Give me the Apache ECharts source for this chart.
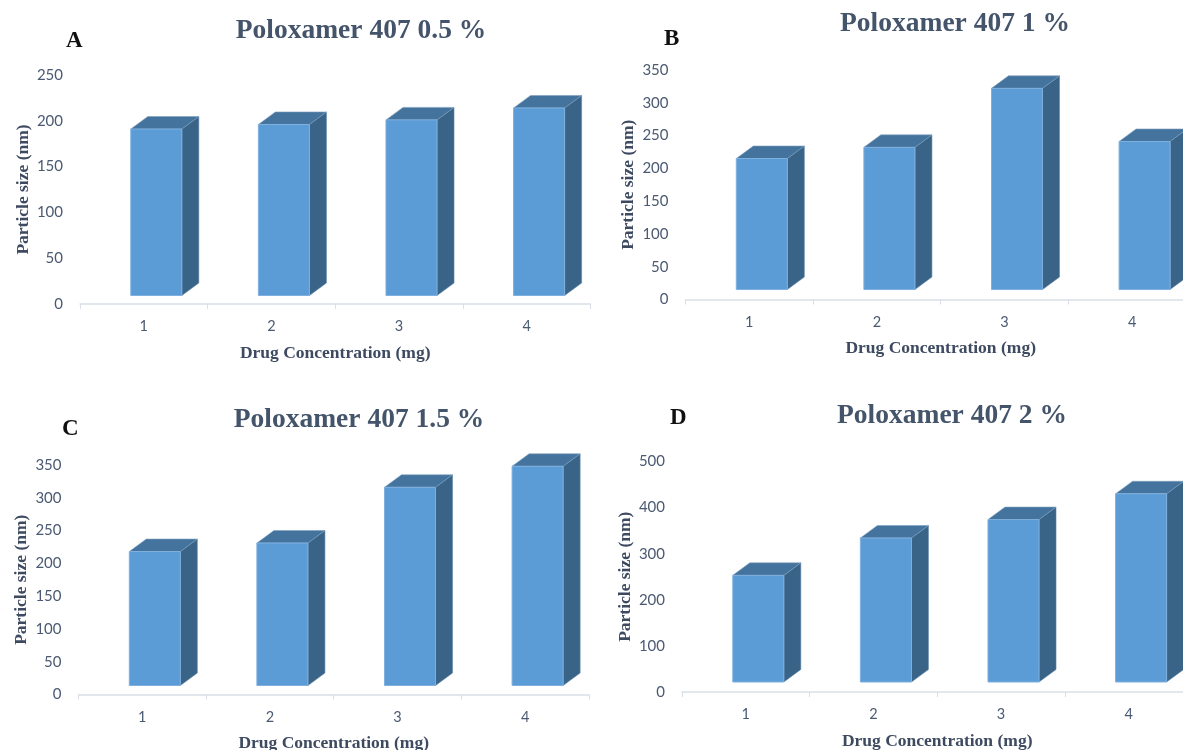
<!DOCTYPE html>
<html>
<head>
<meta charset="utf-8">
<style>html,body{margin:0;padding:0;background:#fff}#c{width:1183px;height:750px}</style>
<script src="https://cdn.jsdelivr.net/npm/echarts@6/dist/echarts.min.js"></script>
</head>
<body>
<div id="c"></div>
<script>
const categories = ['1', '2', '3', '4'];
const valuesA = [191, 196, 201, 214];
const valuesB = [215, 232, 322, 241];
const valuesC = [218, 231, 316, 348];
const valuesD = [253, 334, 374, 430];
const maxA = 250, stepA = 50;
const maxB = 350, stepB = 50;
const maxC = 350, stepC = 50;
const maxD = 500, stepD = 100;
const titles = ['Poloxamer 407 0.5 %', 'Poloxamer 407 1 %', 'Poloxamer 407 1.5 %', 'Poloxamer 407 2 %'];
const letters = ['A', 'B', 'C', 'D'];
const xName = 'Drug Concentration (mg)';
const yName = 'Particle size (nm)';

const panels = [
  {values: valuesA, max: maxA, step: stepA, left: 80, top: 75, h: 229, tx: 361, ty: 17, lx: 66, ly: 30, base: 8.5},
  {values: valuesB, max: maxB, step: stepB, left: 685.5, top: 70, h: 229.5, tx: 955, ty: 10, lx: 664, ly: 28, base: 10},
  {values: valuesC, max: maxC, step: stepC, left: 78.5, top: 465, h: 229.5, tx: 359, ty: 406, lx: 62, ly: 418, base: 9},
  {values: valuesD, max: maxD, step: stepD, left: 682, top: 461.5, h: 230.5, tx: 952, ty: 402, lx: 670, ly: 407, base: 10}
];
const bandW = 127.6, textCol = '#4b5a72', titleCol = '#44546a', nameCol = '#3d4a60';
const serif = '"Liberation Serif", serif';

function render3d(base) {
  return function (params, api) {
    const p = api.coord([api.value(0), api.value(1)]);
    const band = api.size([1, 0])[0];
    const w = band * 0.4, dx = 17, dy = 12.5;
    const x0 = p[0] + band * 0.098 - w / 2, x1 = x0 + w;
    const yt = p[1];
    const yb = api.coord([api.value(0), 0])[1] - base;
    return {
      type: 'group',
      children: [
        {type: 'polygon', shape: {points: [[x1, yt], [x1 + dx, yt - dy], [x1 + dx, yb - dy], [x1, yb]]},
         style: {fill: '#396387', stroke: '#5f86a8', lineWidth: 0.6}},
        {type: 'polygon', shape: {points: [[x0, yt], [x1, yt], [x1 + dx, yt - dy], [x0 + dx, yt - dy]]},
         style: {fill: '#44739d', stroke: '#7d9fbd', lineWidth: 0.6}},
        {type: 'rect', shape: {x: x0, y: yt, width: w, height: yb - yt},
         style: {fill: '#5b9bd6', stroke: '#7fb0de', lineWidth: 1}}
      ]
    };
  };
}

const option = {
  backgroundColor: '#ffffff',
  animation: false,
  title: panels.map((p, i) => ({
    text: titles[i], left: p.tx, top: p.ty, textAlign: 'center', padding: 0,
    textStyle: {fontFamily: serif, fontWeight: 'bold', fontSize: 27.5, color: titleCol}
  })).concat(panels.map((p, i) => ({
    text: letters[i], left: p.lx, top: p.ly, padding: 0,
    textStyle: {fontFamily: serif, fontWeight: 'bold', fontSize: 23, color: '#111111'}
  }))),
  grid: panels.map(p => ({left: p.left, top: p.top, width: bandW * 4, height: p.h, containLabel: false, outerBoundsMode: 'none'})),
  xAxis: panels.map((p, i) => ({
    type: 'category', gridIndex: i, data: categories, boundaryGap: true,
    name: xName, nameLocation: 'middle', nameGap: 40,
    nameTextStyle: {fontFamily: serif, fontWeight: 'bold', fontSize: 17.5, color: nameCol},
    axisLine: {show: true, lineStyle: {color: '#d9dee8', width: 1.5}},
    axisTick: {show: true, alignWithLabel: false, length: 5, lineStyle: {color: '#d9dee8', width: 1}},
    axisLabel: {fontFamily: 'Lato', fontSize: 14.5, color: textCol, margin: 15},
    splitLine: {show: false}
  })),
  yAxis: panels.map((p, i) => ({
    type: 'value', gridIndex: i, min: 0, max: p.max, interval: p.step,
    name: yName, nameLocation: 'middle', nameGap: 48,
    nameTextStyle: {fontFamily: serif, fontWeight: 'bold', fontSize: 17.5, color: nameCol},
    axisLine: {show: false}, axisTick: {show: false}, splitLine: {show: false},
    axisLabel: {fontFamily: 'Lato', fontSize: 15, color: textCol, margin: 17}
  })),
  series: panels.map((p, i) => ({
    type: 'custom', xAxisIndex: i, yAxisIndex: i, clip: false,
    renderItem: render3d(p.base),
    encode: {x: 0, y: 1},
    data: p.values.map((v, k) => [k, v])
  }))
};
const chart = echarts.init(document.getElementById('c'), null, {renderer: 'canvas'});
chart.setOption(option);
</script>
</body>
</html>
